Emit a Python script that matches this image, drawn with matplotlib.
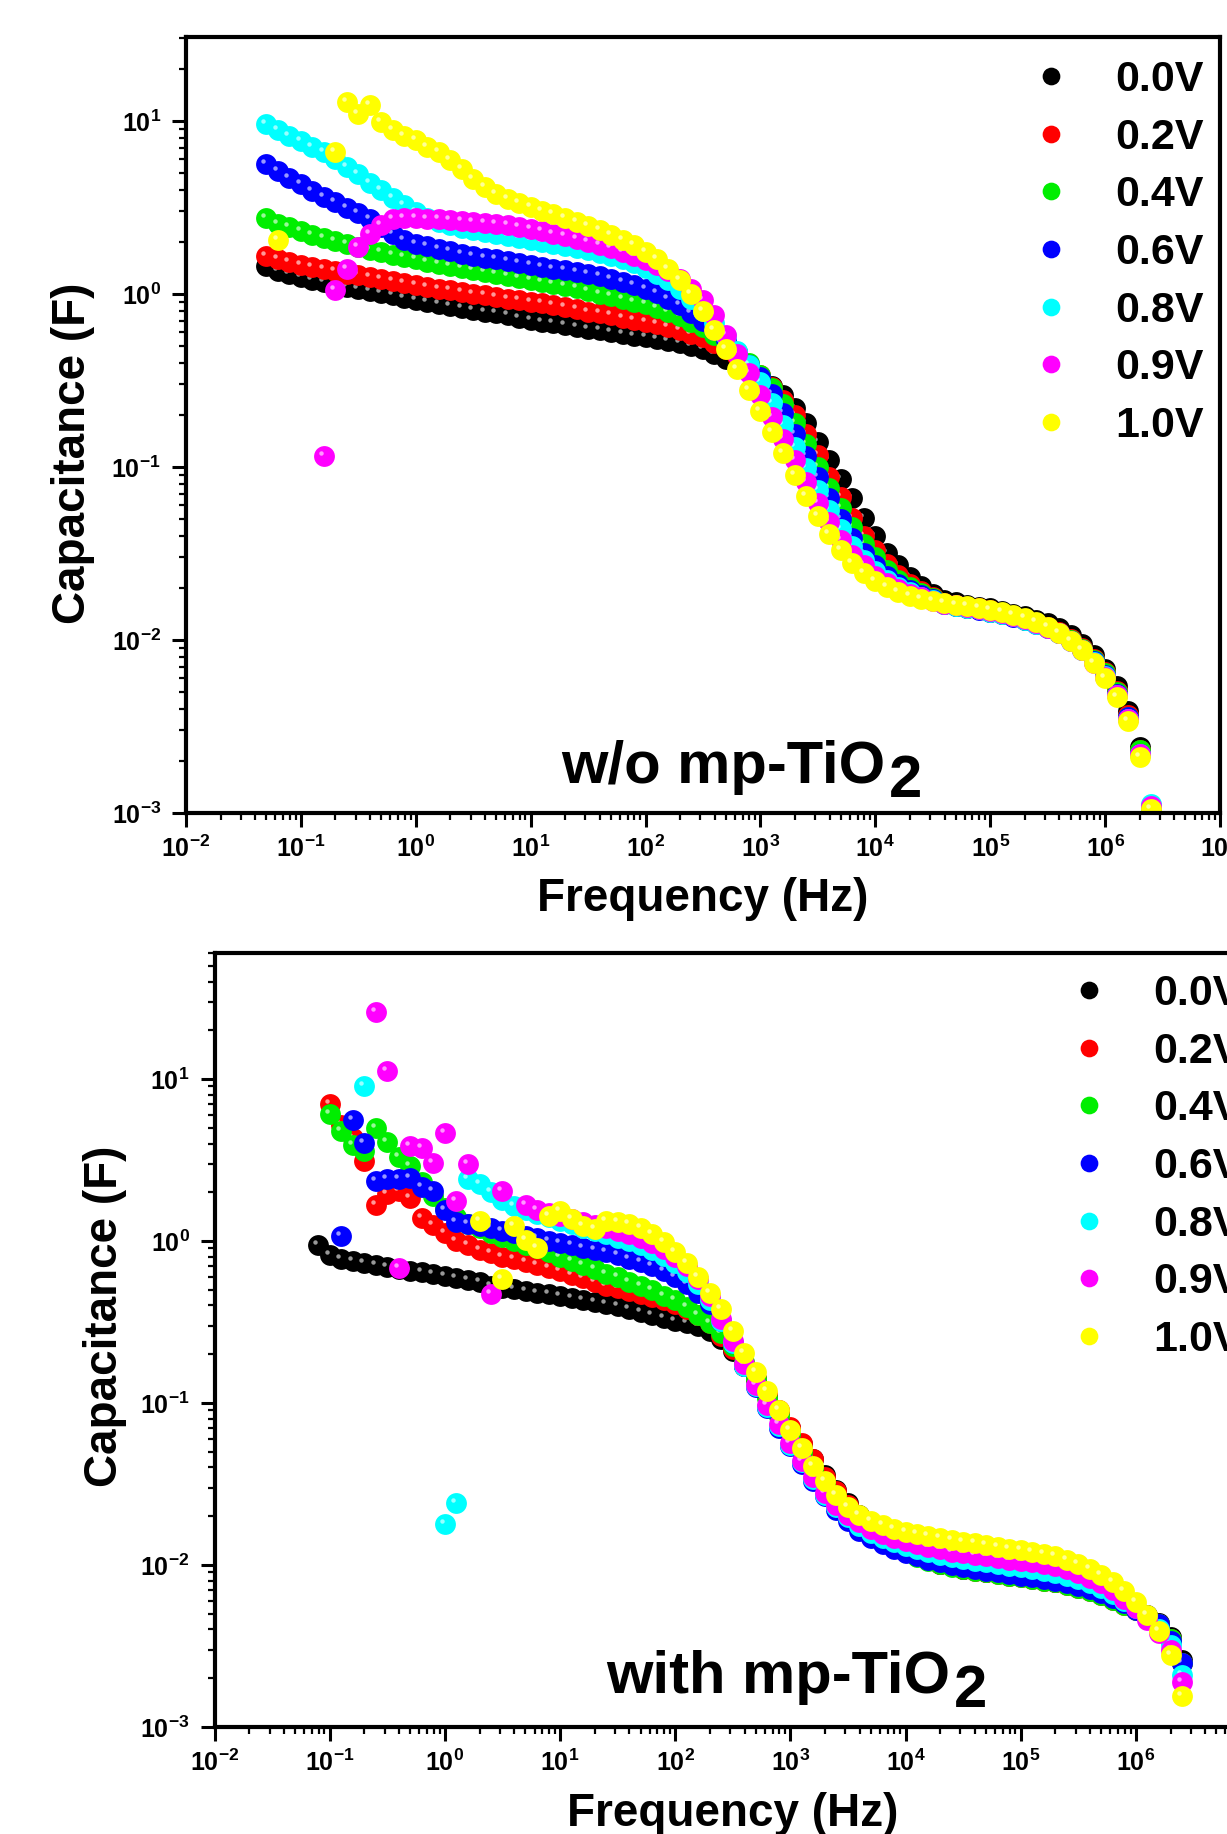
import numpy as np
import matplotlib
matplotlib.use("Agg")
import matplotlib.pyplot as plt
from matplotlib.ticker import LogLocator, NullFormatter
from matplotlib.transforms import offset_copy

nan = np.nan

# measurement frequencies (Hz), 10 points per decade, 0.05 Hz -> 2.5 MHz
freq_hz = [
    0.0501, 0.0631, 0.0794,
    0.1, 0.126, 0.158, 0.2, 0.251, 0.316, 0.398, 0.501, 0.631, 0.794,
    1.0, 1.26, 1.58, 2.0, 2.51, 3.16, 3.98, 5.01, 6.31, 7.94,
    10, 12.6, 15.8, 20, 25.1, 31.6, 39.8, 50.1, 63.1, 79.4,
    100, 126, 158, 200, 251, 316, 398, 501, 631, 794,
    1e3, 1.26e3, 1.58e3, 2e3, 2.51e3, 3.16e3, 3.98e3, 5.01e3, 6.31e3, 7.94e3,
    1e4, 1.26e4, 1.58e4, 2e4, 2.51e4, 3.16e4, 3.98e4, 5.01e4, 6.31e4, 7.94e4,
    1e5, 1.26e5, 1.58e5, 2e5, 2.51e5, 3.16e5, 3.98e5, 5.01e5, 6.31e5, 7.94e5,
    1e6, 1.26e6, 1.58e6, 2e6, 2.51e6,
]

labels = ["0.0V", "0.2V", "0.4V", "0.6V", "0.8V", "0.9V", "1.0V"]
colors = ["#000000", "#ff0000", "#00ee00", "#0000ff", "#00ffff", "#ff00ff", "#ffff00"]

# ---- w/o mp-TiO2 : capacitance (F), series end at 2.51 MHz ----
wo_0v0 = [
    1.45, 1.36, 1.30,
    1.25, 1.21, 1.17, 1.13, 1.10, 1.07, 1.04, 1.01, 0.98, 0.95,
    0.92, 0.90, 0.87, 0.85, 0.83, 0.81, 0.79, 0.77, 0.75, 0.73,
    0.71, 0.69, 0.675, 0.66, 0.645, 0.63, 0.615, 0.60, 0.585, 0.57,
    0.56, 0.55, 0.535, 0.52, 0.50, 0.48, 0.45, 0.42, 0.39, 0.36,
    0.33, 0.295, 0.26, 0.22, 0.18, 0.14, 0.11, 0.085, 0.066, 0.051,
    0.040, 0.032, 0.027, 0.023, 0.0205, 0.0185, 0.0170, 0.0165, 0.0160, 0.0156,
    0.0152, 0.0147, 0.0142, 0.0137, 0.0131, 0.0125, 0.0117, 0.0107, 0.0095, 0.0082,
    0.0068, 0.0054, 0.0039, 0.0024, 0.00095,
]
wo_0v2 = [
    1.65, 1.58, 1.52,
    1.47, 1.43, 1.39, 1.35, 1.31, 1.28, 1.25, 1.22, 1.19, 1.16,
    1.13, 1.10, 1.07, 1.05, 1.02, 1.00, 0.98, 0.96, 0.94, 0.92,
    0.90, 0.88, 0.86, 0.84, 0.82, 0.79, 0.77, 0.75, 0.73, 0.71,
    0.69, 0.67, 0.645, 0.62, 0.59, 0.56, 0.52, 0.48, 0.44, 0.39,
    0.34, 0.29, 0.245, 0.20, 0.155, 0.117, 0.088, 0.067, 0.051, 0.040,
    0.033, 0.0275, 0.0236, 0.021, 0.0192, 0.0178, 0.0164, 0.0160, 0.0156, 0.0152,
    0.0148, 0.0143, 0.0138, 0.0132, 0.0126, 0.0119, 0.0111, 0.0101, 0.0090, 0.0078,
    0.0065, 0.0051, 0.0037, 0.0023, 0.0010,
]
wo_0v4 = [
    2.75, 2.55, 2.42,
    2.30, 2.20, 2.10, 2.02, 1.94, 1.87, 1.80, 1.74, 1.68, 1.63,
    1.58, 1.53, 1.49, 1.45, 1.41, 1.37, 1.33, 1.30, 1.26, 1.23,
    1.20, 1.17, 1.14, 1.11, 1.08, 1.04, 1.00, 0.97, 0.94, 0.90,
    0.87, 0.83, 0.79, 0.74, 0.69, 0.64, 0.58, 0.52, 0.46, 0.40,
    0.34, 0.285, 0.23, 0.18, 0.135, 0.10, 0.076, 0.058, 0.045, 0.036,
    0.030, 0.0255, 0.0223, 0.0201, 0.0186, 0.0175, 0.0162, 0.0158, 0.0154, 0.0150,
    0.0146, 0.0142, 0.0137, 0.0131, 0.0125, 0.0118, 0.0110, 0.0100, 0.0089, 0.0077,
    0.0064, 0.0050, 0.0036, 0.0023, 0.00105,
]
wo_0v6 = [
    5.6, 5.1, 4.65,
    4.3, 3.95, 3.65, 3.4, 3.15, 2.95, 2.72, 2.45, 2.22, 2.05,
    1.95, 1.88, 1.81, 1.76, 1.71, 1.66, 1.62, 1.58, 1.54, 1.50,
    1.46, 1.43, 1.40, 1.37, 1.34, 1.30, 1.26, 1.22, 1.17, 1.12,
    1.07, 1.01, 0.94, 0.86, 0.78, 0.70, 0.62, 0.54, 0.46, 0.39,
    0.33, 0.265, 0.205, 0.155, 0.115, 0.087, 0.066, 0.050, 0.039, 0.032,
    0.027, 0.0235, 0.021, 0.0194, 0.0181, 0.0172, 0.0161, 0.0157, 0.0153, 0.0149,
    0.0145, 0.0141, 0.0136, 0.0130, 0.0124, 0.0117, 0.0109, 0.0099, 0.0088, 0.0076,
    0.0063, 0.0049, 0.0036, 0.0022, 0.0011,
]
wo_0v8 = [
    9.6, 8.9, 8.2,
    7.6, 7.1, 6.6, 6.0, 5.4, 4.9, 4.4, 3.97, 3.6, 3.25,
    2.97, 2.75, 2.6, 2.49, 2.40, 2.33, 2.27, 2.21, 2.15, 2.10,
    2.06, 2.0, 1.95, 1.90, 1.84, 1.79, 1.72, 1.66, 1.58, 1.50,
    1.41, 1.31, 1.2, 1.07, 0.94, 0.80, 0.68, 0.57, 0.47, 0.39,
    0.31, 0.235, 0.175, 0.13, 0.098, 0.074, 0.056, 0.044, 0.035, 0.029,
    0.025, 0.0222, 0.0203, 0.0189, 0.0178, 0.0170, 0.0161, 0.0158, 0.0154, 0.0150,
    0.0146, 0.0142, 0.0137, 0.0131, 0.0124, 0.0117, 0.0109, 0.0099, 0.0088, 0.0075,
    0.0062, 0.0048, 0.0035, 0.0022, 0.00112,
]
wo_0v9 = [
    nan, nan, nan,
    nan, nan, 0.115, 1.05, 1.40, 1.87, 2.23, 2.5, 2.7, 2.75,
    2.75, 2.72, 2.69, 2.66, 2.63, 2.60, 2.57, 2.54, 2.50, 2.44,
    2.37, 2.30, 2.23, 2.15, 2.08, 2.0, 1.92, 1.83, 1.75, 1.66,
    1.56, 1.46, 1.36, 1.22, 1.07, 0.92, 0.75, 0.58, 0.45, 0.35,
    0.26, 0.195, 0.145, 0.11, 0.082, 0.062, 0.048, 0.038, 0.031, 0.027,
    0.0235, 0.0212, 0.0197, 0.0185, 0.0176, 0.0169, 0.0162, 0.0159, 0.0155, 0.0151,
    0.0147, 0.0143, 0.0138, 0.0132, 0.0125, 0.0118, 0.0109, 0.0099, 0.0087, 0.0074,
    0.0061, 0.0048, 0.0035, 0.0022, 0.0011,
]
wo_1v0 = [
    nan, 2.04, nan,
    nan, nan, nan, 6.6, 12.9, 11.0, 12.3, 9.8, 8.8, 8.2,
    7.7, 7.1, 6.6, 5.9, 5.3, 4.6, 4.15, 3.8, 3.55, 3.35,
    3.18, 3.01, 2.88, 2.75, 2.6, 2.47, 2.33, 2.2, 2.06, 1.91,
    1.75, 1.58, 1.40, 1.2, 1.0, 0.80, 0.62, 0.48, 0.37, 0.28,
    0.21, 0.16, 0.12, 0.09, 0.068, 0.052, 0.041, 0.033, 0.028, 0.0245,
    0.022, 0.0202, 0.019, 0.018, 0.0173, 0.0167, 0.0163, 0.0160, 0.0157, 0.0153,
    0.0149, 0.0145, 0.0140, 0.0134, 0.0127, 0.0119, 0.0110, 0.0099, 0.0087, 0.0074,
    0.0060, 0.0047, 0.0034, 0.0021, 0.00105,
]

# ---- with mp-TiO2 : capacitance (F), starts at 0.079 Hz ----
with_0v0 = [
    0.95,
    0.82, 0.77, 0.75, 0.73, 0.71, 0.69, 0.67, 0.655, 0.64, 0.625,
    0.61, 0.59, 0.575, 0.56, 0.53, 0.515, 0.505, 0.49, 0.48, 0.47,
    0.455, 0.445, 0.435, 0.42, 0.41, 0.395, 0.38, 0.365, 0.35, 0.336,
    0.322, 0.31, 0.297, 0.28, 0.25, 0.21, 0.17, 0.138, 0.11, 0.088,
    0.07, 0.056, 0.045, 0.036, 0.029, 0.024, 0.0203, 0.0172, 0.015, 0.0134,
    0.0122, 0.0114, 0.0107, 0.0102, 0.0098, 0.0095, 0.0093, 0.0091, 0.0089, 0.0087,
    0.0085, 0.0083, 0.0081, 0.0079, 0.0076, 0.0073, 0.0070, 0.0066, 0.0062, 0.0058,
    0.0054, 0.0049, 0.0044, 0.0036, 0.0026,
]
with_0v2 = [
    nan,
    7.0, 5.2, 4.3, 3.1, 1.68, 1.95, 2.03, 1.85, 1.38, 1.25,
    1.12, 1.0, 0.94, 0.88, 0.84, 0.80, 0.77, 0.74, 0.71, 0.68,
    0.65, 0.62, 0.59, 0.56, 0.53, 0.51, 0.49, 0.47, 0.45, 0.43,
    0.41, 0.38, 0.35, 0.31, 0.26, 0.215, 0.175, 0.142, 0.113, 0.09,
    0.071, 0.057, 0.045, 0.035, 0.0285, 0.0235, 0.0196, 0.0168, 0.0148, 0.0133,
    0.0121, 0.0113, 0.0107, 0.0102, 0.0098, 0.0095, 0.0092, 0.0090, 0.0088, 0.0086,
    0.0084, 0.0082, 0.0080, 0.0078, 0.0075, 0.0072, 0.0069, 0.0065, 0.0061, 0.0057,
    0.0053, 0.0048, 0.0043, 0.0035, 0.0025,
]
with_0v4 = [
    nan,
    6.1, 4.8, 3.9, 3.6, 5.0, 4.1, 3.3, 2.9, 2.3, 1.9,
    1.6, 1.4, 1.28, 1.2, 1.12, 1.06, 1.0, 0.95, 0.90, 0.85,
    0.80, 0.75, 0.71, 0.67, 0.63, 0.60, 0.56, 0.53, 0.50, 0.46,
    0.43, 0.39, 0.35, 0.31, 0.27, 0.225, 0.18, 0.14, 0.107, 0.083,
    0.064, 0.050, 0.039, 0.031, 0.0255, 0.0213, 0.0182, 0.0160, 0.0143, 0.0130,
    0.0120, 0.0112, 0.0106, 0.0101, 0.0097, 0.0094, 0.0092, 0.0090, 0.0088, 0.0086,
    0.0084, 0.0082, 0.0080, 0.0078, 0.0075, 0.0072, 0.0069, 0.0065, 0.0061, 0.0057,
    0.0053, 0.0048, 0.0043, 0.0035, 0.0025,
]
with_0v6 = [
    nan,
    nan, 1.07, 5.6, 4.05, 2.34, 2.4, 2.42, 2.45, 2.15, 2.05,
    1.55, 1.32, 1.28, 1.24, 1.20, 1.16, 1.12, 1.08, 1.04, 1.00,
    0.97, 0.94, 0.91, 0.88, 0.85, 0.82, 0.78, 0.74, 0.70, 0.65,
    0.60, 0.54, 0.48, 0.41, 0.32, 0.235, 0.17, 0.125, 0.093, 0.070,
    0.054, 0.042, 0.033, 0.0265, 0.0218, 0.0186, 0.0163, 0.0147, 0.0135, 0.0126,
    0.0119, 0.0113, 0.0108, 0.0104, 0.0100, 0.0097, 0.0094, 0.0092, 0.0090, 0.0088,
    0.0086, 0.0084, 0.0082, 0.0080, 0.0077, 0.0074, 0.0071, 0.0067, 0.0063, 0.0058,
    0.0053, 0.0048, 0.0043, 0.0034, 0.0025,
]
with_0v8 = [
    nan,
    nan, nan, nan, 9.1, nan, nan, nan, nan, nan, nan,
    0.0178, 0.024, 2.4, 2.25, 2.0, 1.8, 1.65, 1.55, 1.47, 1.40,
    1.33, 1.27, 1.21, 1.15, 1.10, 1.05, 1.00, 0.94, 0.88, 0.81,
    0.73, 0.64, 0.54, 0.43, 0.32, 0.235, 0.17, 0.127, 0.095, 0.072,
    0.055, 0.043, 0.034, 0.027, 0.0228, 0.0197, 0.0174, 0.0158, 0.0147, 0.0138,
    0.0131, 0.0125, 0.0120, 0.0116, 0.0112, 0.0109, 0.0106, 0.0104, 0.0101, 0.0099,
    0.0097, 0.0095, 0.0092, 0.0089, 0.0086, 0.0082, 0.0077, 0.0072, 0.0066, 0.0060,
    0.0054, 0.0047, 0.0040, 0.0032, 0.0021,
]
with_0v9 = [
    nan,
    nan, nan, nan, nan, 25.8, 11.2, 0.68, 3.86, 3.77, 3.04,
    4.67, 1.76, 2.97, nan, 0.47, 2.03, nan, 1.68, 1.55, 1.48,
    1.42, 1.36, 1.31, 1.26, 1.21, 1.16, 1.10, 1.04, 0.97, 0.89,
    0.80, 0.70, 0.58, 0.46, 0.33, 0.24, 0.175, 0.13, 0.097, 0.074,
    0.057, 0.044, 0.035, 0.028, 0.0235, 0.0205, 0.0183, 0.0167, 0.0156, 0.0147,
    0.0140, 0.0134, 0.0129, 0.0125, 0.0121, 0.0118, 0.0115, 0.0113, 0.0110, 0.0108,
    0.0106, 0.0104, 0.0101, 0.0098, 0.0094, 0.0089, 0.0083, 0.0077, 0.0070, 0.0062,
    0.0054, 0.0046, 0.0038, 0.0030, 0.0019,
]
with_1v0 = [
    nan,
    nan, nan, nan, nan, nan, nan, nan, nan, nan, nan,
    nan, nan, nan, 1.33, nan, 0.58, 1.23, 1.02, 0.91, 1.42,
    1.53, 1.36, 1.23, 1.18, 1.33, 1.32, 1.27, 1.20, 1.10, 0.98,
    0.86, 0.73, 0.60, 0.48, 0.38, 0.28, 0.205, 0.155, 0.118, 0.090,
    0.068, 0.053, 0.041, 0.033, 0.027, 0.0228, 0.0203, 0.0188, 0.0177, 0.0168,
    0.0161, 0.0155, 0.0150, 0.0146, 0.0142, 0.0139, 0.0136, 0.0132, 0.0129, 0.0126,
    0.0123, 0.0120, 0.0117, 0.0113, 0.0108, 0.0102, 0.0095, 0.0087, 0.0078, 0.0069,
    0.0059, 0.0049, 0.0039, 0.0028, 0.00155,
]

wo_series = [wo_0v0, wo_0v2, wo_0v4, wo_0v6, wo_0v8, wo_0v9, wo_1v0]
with_series = [with_0v0, with_0v2, with_0v4, with_0v6, with_0v8, with_0v9, with_1v0]

plt.rcParams["font.family"] = ["Liberation Sans", "DejaVu Sans"]
plt.rcParams["font.weight"] = "bold"
plt.rcParams["axes.labelweight"] = "bold"

W, H = 1227, 1834
fig = plt.figure(figsize=(W / 100, H / 100), dpi=100)


def px_rect(x0, y_top, x1, y_bot):
    # pixel box -> figure fraction rect
    return [x0 / W, 1 - y_bot / H, (x1 - x0) / W, (y_bot - y_top) / H]


def draw_panel(rect, ymax, series, tag, tag_px, leg_px, ylab_xy, xlab_y):
    ax = fig.add_axes(rect)
    f = np.array(freq_hz)
    handles = []
    hl = offset_copy(ax.transData, fig=fig, x=-3, y=3, units="dots")
    for vals, col, lab in zip(series, colors, labels):
        x = f[-len(vals):]
        h, = ax.plot(x, vals, ls="none", marker="o", ms=15, mew=0,
                     color=col, label=lab)
        ax.plot(x, vals, ls="none", marker="o", ms=3.2, mew=0,
                color="white", alpha=0.6, transform=hl)
        handles.append(h)

    ax.set_xscale("log")
    ax.set_yscale("log")
    ax.set_xlim(1e-2, 1e7)
    ax.set_ylim(1e-3, ymax)
    for axis in (ax.xaxis, ax.yaxis):
        axis.set_major_locator(LogLocator(base=10, numticks=20))
        axis.set_minor_locator(LogLocator(base=10, subs=np.arange(2, 10), numticks=20))
        axis.set_minor_formatter(NullFormatter())
    ax.tick_params(which="major", direction="out", length=10, width=2.2,
                   labelsize=18, top=False, right=False)
    ax.tick_params(axis="x", which="major", pad=6)
    ax.tick_params(axis="y", which="major", pad=8)
    ax.tick_params(which="minor", direction="out", length=5, width=1.6,
                   top=False, right=False)
    for s in ax.spines.values():
        s.set_linewidth(3)

    ax.set_xlabel("Frequency (Hz)", fontsize=33, fontweight="bold")
    ax.set_ylabel("Capacitance (F)", fontsize=33, fontweight="bold")
    ax.xaxis.set_label_coords(0.5, xlab_y)
    ax.yaxis.set_label_coords(*ylab_xy)

    lx, ly = leg_px
    ax.legend(handles=handles, loc="upper left",
              bbox_to_anchor=(lx / W, 1 - ly / H), bbox_transform=fig.transFigure,
              frameon=False, prop={"size": 31, "weight": "bold"},
              handlelength=1.0, handletextpad=1.0, labelspacing=0.41,
              borderpad=0, borderaxespad=0, markerscale=0.85)

    tx, ty = tag_px
    t = fig.text(tx / W, 1 - ty / H, tag, fontsize=43, fontweight="bold",
                 va="baseline", ha="left")
    ax.annotate("2", xy=(1, 0), xycoords=t, xytext=(3, -10),
                textcoords="offset points", fontsize=43, fontweight="bold",
                va="bottom", ha="left", annotation_clip=False)
    return ax


draw_panel(px_rect(186, 37, 1220, 813), 30.5, wo_series, "w/o mp-TiO",
           (561, 783), (1029, 60), (-0.088, 0.463), -0.082)
draw_panel(px_rect(214.6, 953, 1251, 1727), 60, with_series, "with mp-TiO",
           (606, 1693), (1067, 974), (-0.085, 0.531), -0.084)

fig.savefig("out.png", dpi=100)
